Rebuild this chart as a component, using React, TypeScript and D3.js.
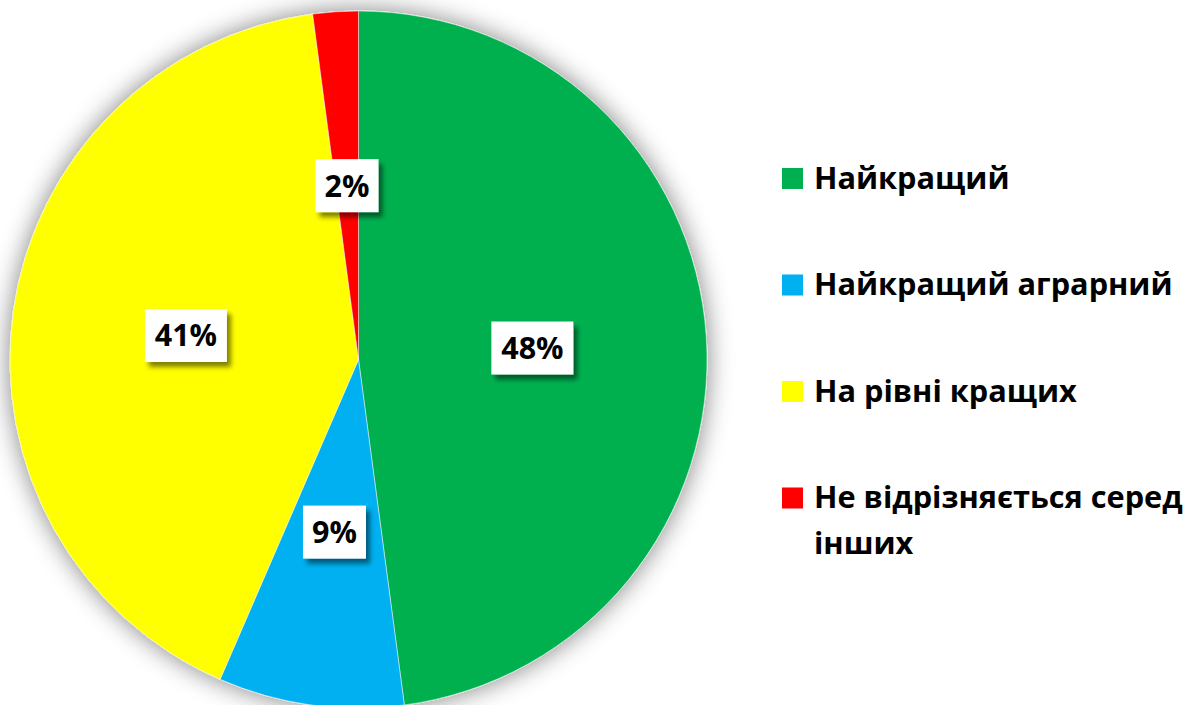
import React from "react";
import * as d3 from "d3";

const categories = ["Найкращий", "Найкращий аграрний", "На рівні кращих", "Не відрізняється серед інших"];
const legendLines = [["Найкращий"], ["Найкращий аграрний"], ["На рівні кращих"], ["Не відрізняється серед", "інших"]];
const values = [47.9, 8.6, 41.4, 2.1];
const labels = ["48%", "9%", "41%", "2%"];
const colors = ["#00B050", "#00B0F0", "#FFFF00", "#FF0000"];

const W = 1199;
const H = 705;
const CX = 358.5;
const CY = 359.5;
const R = 348.5;
const FONT = "'Open Sans', 'Noto Sans', sans-serif";

export default function App() {
  const pie = d3.pie<number>().sort(null).value((d) => d)(values);
  const arc = d3.arc<d3.PieArcDatum<number>>().innerRadius(0).outerRadius(R);
  const legendY = [178.5, 285, 391.5, 498];

  return (
    <div style={{ position: "absolute", left: 0, top: 0, width: W, height: H, background: "#fff" }}>
      <svg width={W} height={H} style={{ display: "block" }}>
        <defs>
          <filter id="pieShadow" x="-20%" y="-20%" width="140%" height="140%">
            <feGaussianBlur in="SourceAlpha" stdDeviation="13" />
            <feComponentTransfer>
              <feFuncA type="linear" slope="0.5" />
            </feComponentTransfer>
            <feMerge>
              <feMergeNode />
              <feMergeNode in="SourceGraphic" />
            </feMerge>
          </filter>
          <filter id="boxShadow" x="-30%" y="-30%" width="160%" height="160%">
            <feGaussianBlur in="SourceAlpha" stdDeviation="2.5" />
            <feOffset dx="4" dy="5" result="ob" />
            <feComponentTransfer>
              <feFuncA type="linear" slope="0.5" />
            </feComponentTransfer>
            <feMerge>
              <feMergeNode />
              <feMergeNode in="SourceGraphic" />
            </feMerge>
          </filter>
        </defs>
        <g transform={`translate(${CX},${CY})`}>
          <g filter="url(#pieShadow)">
            {pie.map((p, i) => (
              <path key={i} d={arc(p) || ""} fill={colors[i]} stroke="#ffffff" strokeOpacity={0.6} strokeWidth={0.8} />
            ))}
          </g>
          {pie.map((p, i) => {
            const [x, y] = arc.centroid(p);
            const w = labels[i].length === 3 ? 82 : 63;
            const h = 53;
            return (
              <g key={"l" + i} transform={`translate(${x},${y})`}>
                <rect x={-w / 2} y={-h / 2} width={w} height={h} fill="#fff" filter="url(#boxShadow)" />
                <text
                  x={0}
                  y={11}
                  textAnchor="middle"
                  fontFamily={FONT}
                  fontWeight={700}
                  fontSize={30.5}
                  fill="#000"
                >
                  {labels[i]}
                </text>
              </g>
            );
          })}
        </g>
        <g>
          {categories.map((c, i) => (
            <g key={"lg" + i} transform={`translate(782,${legendY[i]})`}>
              <rect x={0} y={-10.5} width={21} height={21} fill={colors[i]} />
              {legendLines[i].map((ln, j) => (
                <text
                  key={j}
                  x={32}
                  y={10 + j * 46}
                  fontFamily={FONT}
                  fontWeight={700}
                  fontSize={30.7}
                  fill="#000"
                >
                  {ln}
                </text>
              ))}
            </g>
          ))}
        </g>
      </svg>
    </div>
  );
}
